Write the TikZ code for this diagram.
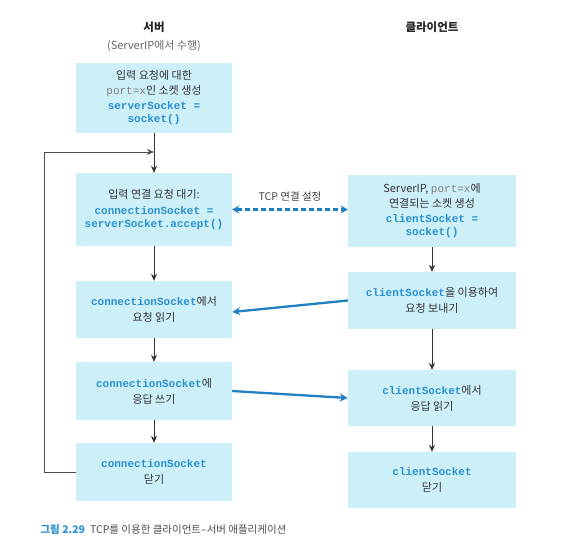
\documentclass[tikz,border=0pt]{standalone}
\usepackage{fontspec}
\setmainfont{Noto Sans CJK KR}
\newfontfamily\codefont{Liberation Mono}
\usetikzlibrary{arrows.meta}
\definecolor{boxfill}{HTML}{CDEFF8}
\definecolor{codeblue}{HTML}{2A90D2}
\definecolor{arrblue}{HTML}{1F80C2}
\definecolor{txt}{HTML}{333333}
\newcommand\cde[1]{{\codefont\bfseries\color{codeblue}#1}}
\newcommand\graycode[1]{{\codefont\color{gray}#1}}
\tikzset{
  sbox/.style={rectangle, fill=boxfill, inner sep=0pt, align=center, text=txt,
    font=\fontsize{11}{16}\selectfont},
  lbox/.style={sbox, minimum width=156pt},
  rbox/.style={sbox, minimum width=168pt},
  flow/.style={draw=black!80, line width=0.7pt, -{Stealth[length=7pt,width=6pt]}},
  barrow/.style={draw=arrblue, line width=2.3pt, -{Stealth[length=8pt,width=8pt]}},
}
\begin{document}
\begin{tikzpicture}[x=1pt,y=-1pt]
\useasboundingbox (0,0) rectangle (561,551);
% headers
\node[font=\fontsize{11.5}{13}\selectfont\bfseries, text=black!85] (hs) at (154,27) {서버};
\node[font=\fontsize{11}{13}\selectfont, text=black!60] (hs2) at (154,46) {(ServerIP에서 수행)};
\node[font=\fontsize{11.5}{13}\selectfont\bfseries, text=black!85] (hc) at (432,27) {클라이언트};
% left boxes
\node[lbox, minimum height=70pt] (L1) at (154,98) {입력 요청에 대한\\[-1pt]\graycode{port=x}인 소켓 생성\\[-1pt]\cde{serverSocket =}\\[-3pt]\cde{socket()}};
\node[lbox, minimum height=73pt] (L2) at (154,209.5) {입력 연결 요청 대기:\\\cde{connectionSocket =}\\[-3pt]\cde{serverSocket.accept()}};
\node[lbox, minimum height=57pt] (L3) at (154,309.5) {\cde{connectionSocket}에서\\요청 읽기};
\node[lbox, minimum height=58pt] (L4) at (154,391) {\cde{connectionSocket}에\\응답 쓰기};
\node[lbox, minimum height=58pt] (L5) at (154,472) {\cde{connectionSocket}\\닫기};
% right boxes
\node[rbox, minimum height=72pt] (R1) at (432,211) {ServerIP, \graycode{port=x}에\\[-1pt]연결되는 소켓 생성\\[-1pt]\cde{clientSocket =}\\[-3pt]\cde{socket()}};
\node[rbox, minimum height=57pt] (R2) at (432,300.5) {\cde{clientSocket}을 이용하여\\요청 보내기};
\node[rbox, minimum height=56pt] (R3) at (432,398) {\cde{clientSocket}에서\\응답 읽기};
\node[rbox, minimum height=56pt] (R4) at (432,480) {\cde{clientSocket}\\닫기};
% flow arrows
\coordinate (J) at (154,152);
\coordinate (LX) at (44,152);
\draw[flow] (L1.south) -- (L2.north);
\draw[flow] (L2.south) -- (L3.north);
\draw[flow] (L3.south) -- (L4.north);
\draw[flow] (L4.south) -- (L5.north);
\draw[flow] (R1.south) -- (R2.north);
\draw[flow] (R2.south) -- (R3.north);
\draw[flow] (R3.south) -- (R4.north);
\draw[flow, draw=black!70] (L5.west) -| (LX) -- (J);
% TCP connection
\draw[draw=arrblue, line width=2.2pt, dash pattern=on 5pt off 3pt, {Stealth[length=7pt,width=8pt]}-{Stealth[length=7pt,width=8pt]}] (L2.east) -- (L2.east -| R1.west);
\node[font=\fontsize{10.5}{12}\selectfont, text=black!75] (tcp) at (290,197) {TCP 연결 설정};
% data arrows
\draw[barrow] (R2.west) -- ([yshift=-2.5pt]L3.east);
\draw[barrow] (L4.east) -- (R3.west);
% caption
\node[anchor=west, font=\fontsize{10.5}{12}\selectfont, text=black!70] (cap) at (37,530) {{\color{codeblue}\bfseries 그림 2.29}\hspace{5pt}TCP를 이용한 클라이언트–서버 애플리케이션};
\end{tikzpicture}
\end{document}
